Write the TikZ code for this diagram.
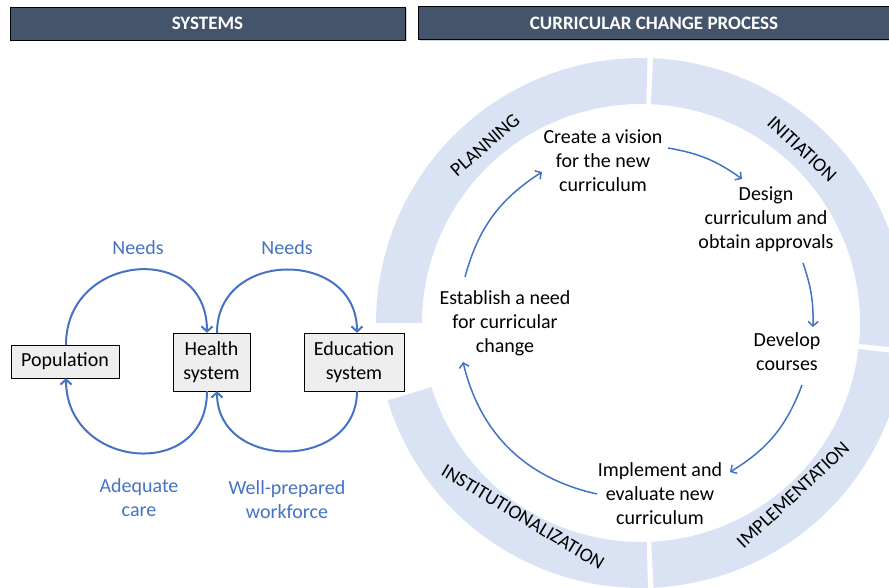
\documentclass[tikz,border=0pt]{standalone}
\usepackage{fontspec}
\setmainfont{Carlito}
\usetikzlibrary{arrows.meta,shadows}

\definecolor{headbg}{HTML}{44546A}
\definecolor{ringbg}{HTML}{DAE3F3}
\definecolor{linkblue}{HTML}{4472C4}
\definecolor{boxgray}{HTML}{EEEEEE}

% one segment of the phase ring, from angle #1 to angle #2
\newcommand{\ringpart}[2]{%
  \fill[ringbg] ([shift={(#1:265)}]hub) arc[start angle=#1, end angle=#2, radius=265]
    -- ([shift={(#2:219)}]hub) arc[start angle=#2, end angle=#1, radius=219] -- cycle;}

\begin{document}
\begin{tikzpicture}[x=1pt, y=1pt,
    head/.style={draw=black, fill=headbg, text=white, font=\fontsize{19}{23}\selectfont\bfseries,
        minimum height=33pt, drop shadow={opacity=0.35, shadow xshift=1.5pt, shadow yshift=-1.5pt}},
    sysbox/.style={draw=black, fill=boxgray, font=\fontsize{20}{24}\selectfont, align=center, inner sep=2pt},
    cyclelabel/.style={text=linkblue, font=\fontsize{20}{24}\selectfont, align=center, inner sep=0pt},
    cycleline/.style={draw=linkblue, line width=2pt, -{Straight Barb[length=5pt, width=11pt]}},
    phase/.style={font=\fontsize{19.5}{21}\selectfont, inner sep=0pt},
    stepbox/.style={font=\fontsize{20}{24}\selectfont, align=center, inner sep=0pt},
    flow/.style={draw=linkblue, line width=1.5pt, -{Straight Barb[length=4.5pt, width=10pt]}}
]
\useasboundingbox (0,0) rectangle (889,588);

% headers
\node[head, minimum width=395pt] (systems) at (207.5,564.5) {SYSTEMS};
\node[head, minimum width=472pt] (process) at (654,565) {CURRICULAR CHANGE PROCESS};

% phase ring
\coordinate (hub) at (641,265);
\ringpart{180}{88.6}
\ringpart{87.4}{-5.5}
\ringpart{-6.8}{-87.3}
\ringpart{-88.5}{-163}

\node[phase, rotate=41] (planning) at (485,443) {PLANNING};
\node[phase, rotate=-43] (initiation) at (802,439) {INITIATION};
\node[phase, rotate=43] (implementation) at (793,93) {IMPLEMENTATION};
\node[phase, rotate=-31] (institution) at (523,71) {INSTITUTIONALIZATION};

% systems
\node[sysbox, minimum width=108pt, minimum height=33pt] (population) at (65,226.5) {Population};
\node[sysbox, minimum width=77pt, minimum height=58pt] (health) at (211.5,226) {Health\\system};
\node[sysbox, minimum width=100pt, minimum height=58pt] (education) at (354,226) {Education\\system};

\draw[cycleline] ([xshift=1pt]population.north) .. controls +(0,92) and +(0,92) .. ([xshift=-4.5pt]health.north);
\draw[cycleline] ([xshift=-4.5pt]health.south) .. controls +(0,-91) and +(0,-91) .. ([xshift=1pt]population.south);
\draw[cycleline] ([xshift=5.5pt]health.north) .. controls +(0,84) and +(0,84) .. ([xshift=3pt]education.north);
\draw[cycleline] ([xshift=3pt]education.south) .. controls +(0,-80) and +(0,-80) .. ([xshift=5.5pt]health.south);

\node[cyclelabel] (needsleft) at (138,340) {Needs};
\node[cyclelabel] (needsright) at (287,340) {Needs};
\node[cyclelabel] (care) at (139,90.5) {Adequate\\care};
\node[cyclelabel] (workforce) at (287,88.5) {Well-prepared\\workforce};

% process steps
\node[stepbox] (vision) at (603,427) {Create a vision\\for the new\\curriculum};
\node[stepbox] (design) at (766,369) {Design\\curriculum and\\obtain approvals};
\node[stepbox] (develop) at (787,236) {Develop\\courses};
\node[stepbox] (implement) at (660,94) {Implement and\\evaluate new\\curriculum};
\node[stepbox] (establish) at (505,265) {Establish a need\\for curricular\\change};

\draw[flow] ([shift={(-40,46)}]establish.center) to[bend left=21] ([shift={(-61,-11)}]vision.center);
\draw[flow] ([shift={(65,13)}]vision.center) to[bend left=13] ([shift={(-24,40)}]design.center);
\draw[flow] ([shift={(37,-44)}]design.center) to[bend left=10] ([shift={(26,25)}]develop.center);
\draw[flow] ([shift={(15,-33)}]develop.center) to[bend left=19] ([shift={(70,22)}]implement.center);
\draw[flow] ([shift={(-63,0)}]implement.center) to[bend left=32] ([shift={(-42,-39)}]establish.center);

\end{tikzpicture}
\end{document}
